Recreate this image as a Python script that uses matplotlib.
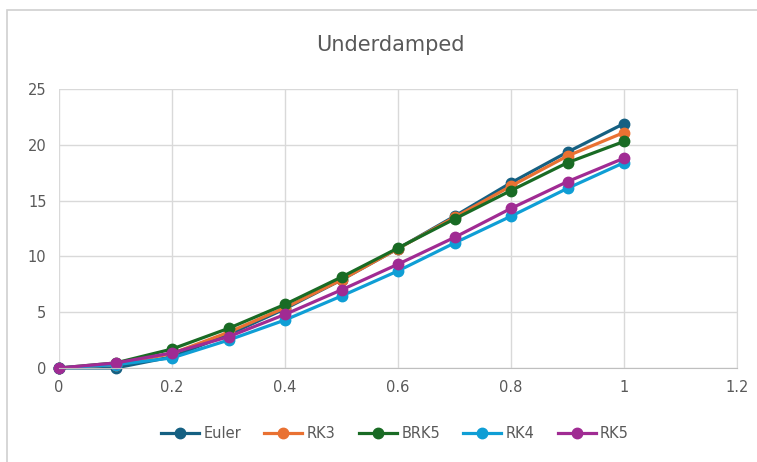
import matplotlib
matplotlib.use("Agg")
import matplotlib.pyplot as plt
from matplotlib.patches import Rectangle

t = [0, 0.1, 0.2, 0.3, 0.4, 0.5, 0.6, 0.7, 0.8, 0.9, 1.0]
euler = [0, 0.0, 1.0, 3.0, 5.3, 7.9, 10.7, 13.6, 16.6, 19.35, 21.9]
rk3 = [0, 0.3, 1.3, 3.2, 5.4, 7.9, 10.7, 13.5, 16.3, 19.0, 21.1]
brk5 = [0, 0.45, 1.7, 3.55, 5.7, 8.15, 10.75, 13.35, 15.9, 18.4, 20.3]
rk4 = [0, 0.3, 0.9, 2.5, 4.3, 6.45, 8.7, 11.2, 13.6, 16.1, 18.4]
rk5 = [0, 0.45, 1.35, 2.8, 4.8, 7.0, 9.3, 11.7, 14.3, 16.7, 18.8]

series = [("Euler", euler, "#156082"), ("RK3", rk3, "#E97132"),
          ("BRK5", brk5, "#196B24"), ("RK4", rk4, "#0F9ED5"),
          ("RK5", rk5, "#A02B93")]

W, H = 757, 462
fig = plt.figure(figsize=(W / 100, H / 100), dpi=100)
fig.patches.append(Rectangle((7 / W, -0.1), 2, (H - 10) / H + 0.1, transform=fig.transFigure,
                             fill=False, edgecolor="#d0d0d0", lw=1.2))
ax = fig.add_axes([59 / W, 1 - 368 / H, (737 - 59) / W, (368 - 89) / H])

for name, vals, col in series:
    ax.plot(t, vals, color=col, lw=2.3, marker="o", ms=7.5, label=name, clip_on=False)

ax.set_xlim(0, 1.2)
ax.set_ylim(0, 25)
ax.set_xticks([0, 0.2, 0.4, 0.6, 0.8, 1.0, 1.2])
ax.set_xticklabels(["0", "0.2", "0.4", "0.6", "0.8", "1", "1.2"])
ax.set_yticks([0, 5, 10, 15, 20, 25])
ax.grid(True, color="#d9d9d9", lw=1)
ax.set_axisbelow(True)
for s in ["top", "left"]:
    ax.spines[s].set_visible(False)
ax.spines["right"].set_color("#d9d9d9")
ax.spines["bottom"].set_color("#bfbfbf")
ax.tick_params(length=0, colors="#595959", labelsize=10.5, pad=9)

fig.text(390 / W, 1 - 45 / H, "Underdamped", ha="center", va="center",
         fontsize=15, color="#595959")
fig.legend(loc="center", bbox_to_anchor=(395 / W, 1 - 434 / H), ncol=5, frameon=False,
           fontsize=10.5, labelcolor="#595959", handlelength=2.6, columnspacing=1.6,
           handletextpad=0.3)

fig.savefig("out.png", dpi=100)
